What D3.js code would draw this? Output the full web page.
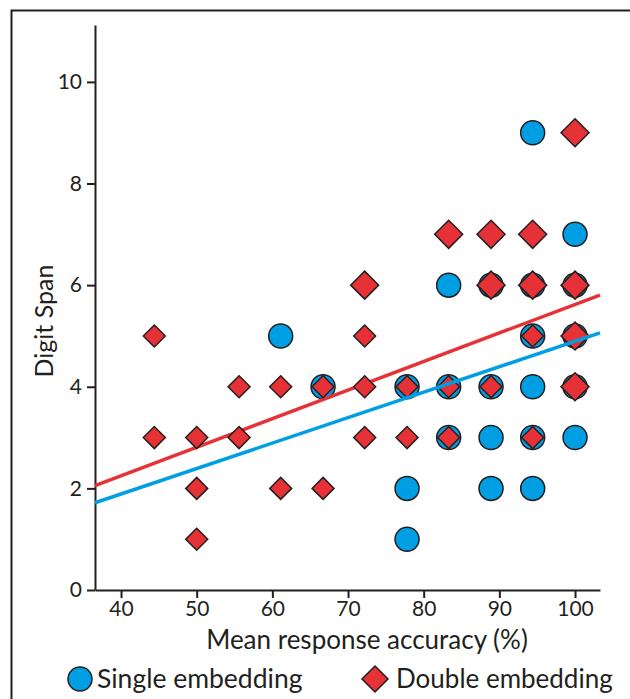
<!DOCTYPE html>
<html>
<head>
<meta charset="utf-8">
<script src="https://cdn.jsdelivr.net/npm/d3@7"></script>
<style>
  html, body { margin: 0; padding: 0; background: #fff; }
  svg { display: block; }
  text { font-family: Lato, "Open Sans", sans-serif; fill: #231f20; }
</style>
</head>
<body>
<svg id="chart" width="630" height="699"></svg>
<script>
// ---- data ----
const xTicks = [40, 50, 60, 70, 80, 90, 100];
const yTicks = [0, 2, 4, 6, 8, 10];

// Single embedding (circles): accuracy %, digit span
const singleX = [61.1, 66.7, 77.8, 77.8, 77.8, 83.3, 83.3, 83.3, 88.9, 88.9, 88.9, 88.9,
                 94.4, 94.4, 94.4, 94.4, 94.4, 94.4, 100, 100, 100, 100, 100];
const singleY = [5, 4, 4, 2, 1, 6, 4, 3, 6, 4, 3, 2,
                 9, 6, 5, 4, 3, 2, 7, 6, 5, 4, 3];

// Double embedding (diamonds): accuracy %, digit span, count (1 or 2 overlapping)
const doubleX = [44.4, 44.4, 50, 50, 50, 55.6, 55.6, 61.1, 61.1, 66.7, 66.7,
                 72.2, 72.2, 72.2, 72.2, 77.8, 77.8, 83.3, 83.3, 83.3,
                 88.9, 88.9, 88.9, 94.4, 94.4, 94.4, 94.4, 100, 100, 100, 100];
const doubleY = [5, 3, 3, 2, 1, 4, 3, 4, 2, 4, 2,
                 6, 5, 4, 3, 4, 3, 7, 4, 3,
                 7, 6, 4, 7, 6, 5, 3, 9, 6, 5, 4];
const doubleN = [1, 1, 1, 1, 1, 1, 1, 1, 1, 1, 1,
                 2, 1, 1, 1, 1, 1, 2, 1, 1,
                 2, 2, 1, 2, 2, 1, 1, 2, 2, 2, 2];

// Linear fits: [slope, intercept]
const fitSingle = [0.0501, -0.114];
const fitDouble = [0.0562, 0.0];

const seriesNames = ["Single embedding", "Double embedding"];
const xTitle = "Mean response accuracy (%)";
const yTitle = "Digit Span";

// ---- drawing ----
const BLUE = "#009fe3", RED = "#e63236", INK = "#231f20";
const svg = d3.select("#chart");

// outer frame
svg.append("rect").attr("x", 11.5).attr("y", 10.5).attr("width", 800).attr("height", 800)
  .attr("fill", "none").attr("stroke", INK).attr("stroke-width", 2);

const x = d3.scaleLinear().domain([36.56, 103.3]).range([95, 600]);
const y = d3.scaleLinear().domain([0, 11.12]).range([590, 25]);

// y axis
const yAxis = svg.append("g").attr("transform", `translate(${x(36.56)},0)`)
  .call(d3.axisLeft(y).tickValues(yTicks).tickSize(8).tickSizeOuter(0).tickPadding(5));
yAxis.select(".domain").attr("stroke", INK).attr("stroke-width", 2);
yAxis.selectAll(".tick line").attr("stroke", INK).attr("stroke-width", 2);
yAxis.selectAll(".tick text").attr("font-size", 21).attr("font-family", null).attr("fill", INK);
yAxis.selectAll(".tick").filter(d => d === 0).select("line").attr("x2", -8);

// x axis
const xAxis = svg.append("g").attr("transform", `translate(0,${y(0)})`)
  .call(d3.axisBottom(x).tickValues(xTicks).tickSize(8).tickSizeOuter(0).tickPadding(3));
xAxis.select(".domain").attr("stroke", INK).attr("stroke-width", 2);
xAxis.selectAll(".tick line").attr("stroke", INK).attr("stroke-width", 2);
xAxis.selectAll(".tick text").attr("font-size", 21).attr("font-family", null).attr("fill", INK);

// axis titles
svg.append("text").attr("x", 367).attr("y", 649).attr("text-anchor", "middle")
  .attr("font-size", 26).text(xTitle);
svg.append("text").attr("transform", `translate(53,321) rotate(-90)`).attr("text-anchor", "middle")
  .attr("font-size", 25).text(yTitle);

const diamond = (cx, cy, h) => `M${cx},${cy - h}L${cx + h},${cy}L${cx},${cy + h}L${cx - h},${cy}Z`;

// circles
svg.append("g").selectAll("circle").data(d3.range(singleX.length)).join("circle")
  .attr("cx", i => x(singleX[i])).attr("cy", i => y(singleY[i])).attr("r", 12)
  .attr("fill", BLUE).attr("stroke", INK).attr("stroke-width", 1.5);

// red fit line
const xd = x.domain();
svg.append("line")
  .attr("x1", x(xd[0])).attr("y1", y(fitDouble[0] * xd[0] + fitDouble[1]))
  .attr("x2", x(xd[1])).attr("y2", y(fitDouble[0] * xd[1] + fitDouble[1]))
  .attr("stroke", RED).attr("stroke-width", 3.5);

// diamonds
svg.append("g").selectAll("path").data(d3.range(doubleX.length)).join("path")
  .attr("d", i => diamond(x(doubleX[i]), y(doubleY[i]), doubleN[i] === 2 ? 14 : 11))
  .attr("fill", RED).attr("stroke", INK).attr("stroke-width", 1.5).attr("stroke-linejoin", "miter");

// blue fit line
svg.append("line")
  .attr("x1", x(xd[0])).attr("y1", y(fitSingle[0] * xd[0] + fitSingle[1]))
  .attr("x2", x(xd[1])).attr("y2", y(fitSingle[0] * xd[1] + fitSingle[1]))
  .attr("stroke", BLUE).attr("stroke-width", 3.5);

// legend
const lg = svg.append("g");
lg.append("circle").attr("cx", 80).attr("cy", 679).attr("r", 12)
  .attr("fill", BLUE).attr("stroke", INK).attr("stroke-width", 1.5);
lg.append("text").attr("x", 97).attr("y", 688).attr("font-size", 26.5).text(seriesNames[0]);
lg.append("path").attr("d", diamond(375, 679, 13))
  .attr("fill", RED).attr("stroke", INK).attr("stroke-width", 1.5);
lg.append("text").attr("x", 396).attr("y", 688).attr("font-size", 26).text(seriesNames[1]);
</script>
</body>
</html>
